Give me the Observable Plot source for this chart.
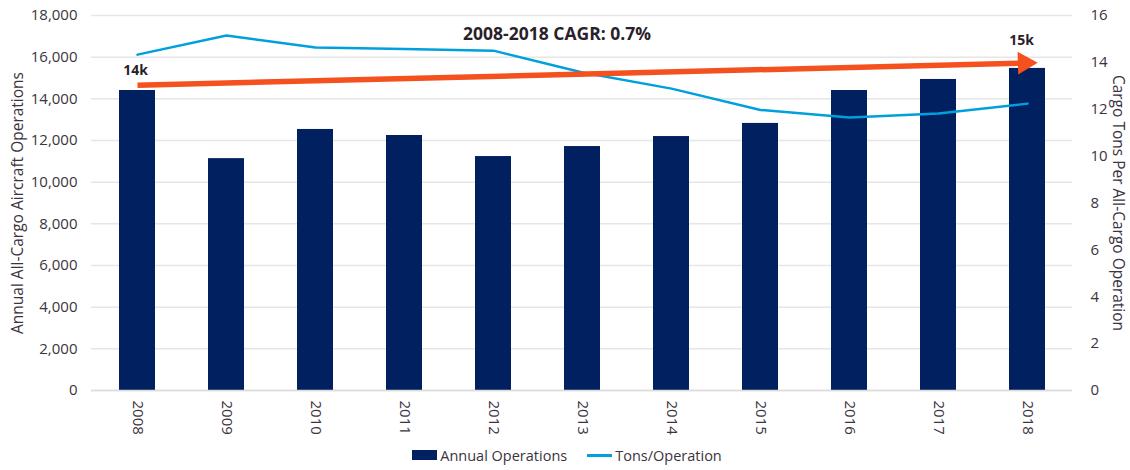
<!DOCTYPE html>
<html>
<head>
<meta charset="utf-8">
<script src="https://cdn.jsdelivr.net/npm/d3@7"></script>
<script src="https://cdn.jsdelivr.net/npm/@observablehq/plot@0.6"></script>
<style>
  html, body { margin: 0; padding: 0; background: #fff; }
  body { width: 1130px; height: 470px; overflow: hidden; font-family: "Open Sans", "Noto Sans", sans-serif; color: #3b3340; }
  #legend { display: flex; justify-content: center; align-items: center; height: 30px; font-size: 14.5px; gap: 20px; margin-left: 4px; }
  .item { display: flex; align-items: center; gap: 3px; }
  .sw-bar { width: 25px; height: 10px; background: #002060; }
  .sw-line { width: 25px; height: 3px; background: #00a0dc; }
</style>
</head>
<body>
<div id="chart"></div>
<div id="legend">
  <div class="item"><span class="sw-bar"></span><span>Annual Operations</span></div>
  <div class="item"><span class="sw-line"></span><span>Tons/Operation</span></div>
</div>
<script>
const years = ["2008","2009","2010","2011","2012","2013","2014","2015","2016","2017","2018"];
const operations = [14400, 11130, 12530, 12240, 11230, 11710, 12190, 12820, 14400, 14930, 15460];
const tonsPerOperation = [14.33, 15.15, 14.63, 14.57, 14.50, 13.57, 12.88, 11.97, 11.65, 11.82, 12.24];
const leftTicks = [0, 2000, 4000, 6000, 8000, 10000, 12000, 14000, 16000, 18000];
const rightTicks = [0, 2, 4, 6, 8, 10, 12, 14, 16];
const trendStart = {year: "2008", value: 14650, label: "14k"};
const trendEnd = {year: "2018", value: 15720, label: "15k"};
const cagrText = "2008-2018 CAGR: 0.7%";
const leftTitle = "Annual All-Cargo Aircraft Operations";
const rightTitle = "Cargo Tons Per All-Cargo Operation";

const K = 18000 / 16; // right axis → left axis units
const barData = years.map((y, i) => ({year: y, ops: operations[i]}));
const lineData = years.map((y, i) => ({year: y, t: tonsPerOperation[i] * K}));
const textColor = "#3b3340";

const plot = Plot.plot({
  width: 1130,
  height: 440,
  marginTop: 15,
  marginBottom: 50,
  marginLeft: 91,
  marginRight: 58,
  style: {fontFamily: "'Open Sans', 'Noto Sans', sans-serif", fontSize: "15px", color: textColor, background: "#fff"},
  x: {domain: years, paddingInner: 0.6, paddingOuter: 0.3, label: null},
  y: {domain: [0, 18000], label: null},
  marks: [
    Plot.gridY(leftTicks, {stroke: "#e6e6e6", strokeOpacity: 1, strokeWidth: 1.5}),
    Plot.barY(barData, {x: "year", y: "ops", fill: "#002060"}),
    Plot.ruleY([0], {stroke: "#dcdcdc", strokeWidth: 1.5}),
    Plot.line(lineData, {x: "year", y: "t", stroke: "#00a0dc", strokeWidth: 2.5, curve: "linear"}),
    Plot.link([{}], {x1: () => trendStart.year, y1: () => trendStart.value, x2: () => trendEnd.year, y2: () => trendEnd.value, stroke: "#f4511e", strokeWidth: 5.5}),
    Plot.dot([trendEnd], {x: "year", y: "value", symbol: "triangle", r: 8.5, fill: "#f4511e", rotate: 88.5, dx: -3}),
    Plot.text([trendStart], {x: "year", y: 15360, text: "label", fontWeight: "bold", fontSize: 14, fill: "#2a1f2a", dx: -2}),
    Plot.text([trendEnd], {x: "year", y: 16800, text: "label", fontWeight: "bold", fontSize: 14, fill: "#2a1f2a", dx: -6}),
    Plot.text([cagrText], {frameAnchor: "top", text: d => d, dx: -25, dy: 12, fontWeight: "bold", fontSize: 17.5, fill: "#2a1f2a"}),
    Plot.axisX({tickRotate: 90, tickSize: 0, tickPadding: 10, fill: textColor, fontSize: 15}),
    Plot.axisY(leftTicks, {anchor: "left", tickSize: 0, tickPadding: 14, tickFormat: d3.format(","), fill: textColor, fontSize: 15, label: null}),
    Plot.axisY(rightTicks.map(d => d * K), {anchor: "right", tickSize: 0, tickPadding: 18, tickFormat: d => Math.round(d / K), fill: textColor, fontSize: 15, label: null}),
    Plot.text([leftTitle], {frameAnchor: "left", textAnchor: "middle", text: d => d, rotate: -90, dx: -73, fontSize: 15.5, fill: textColor}),
    Plot.text([rightTitle], {frameAnchor: "right", textAnchor: "middle", text: d => d, rotate: 90, dx: 45, fontSize: 15.5, fill: textColor})
  ]
});
document.getElementById("chart").appendChild(plot);
</script>
</body>
</html>
